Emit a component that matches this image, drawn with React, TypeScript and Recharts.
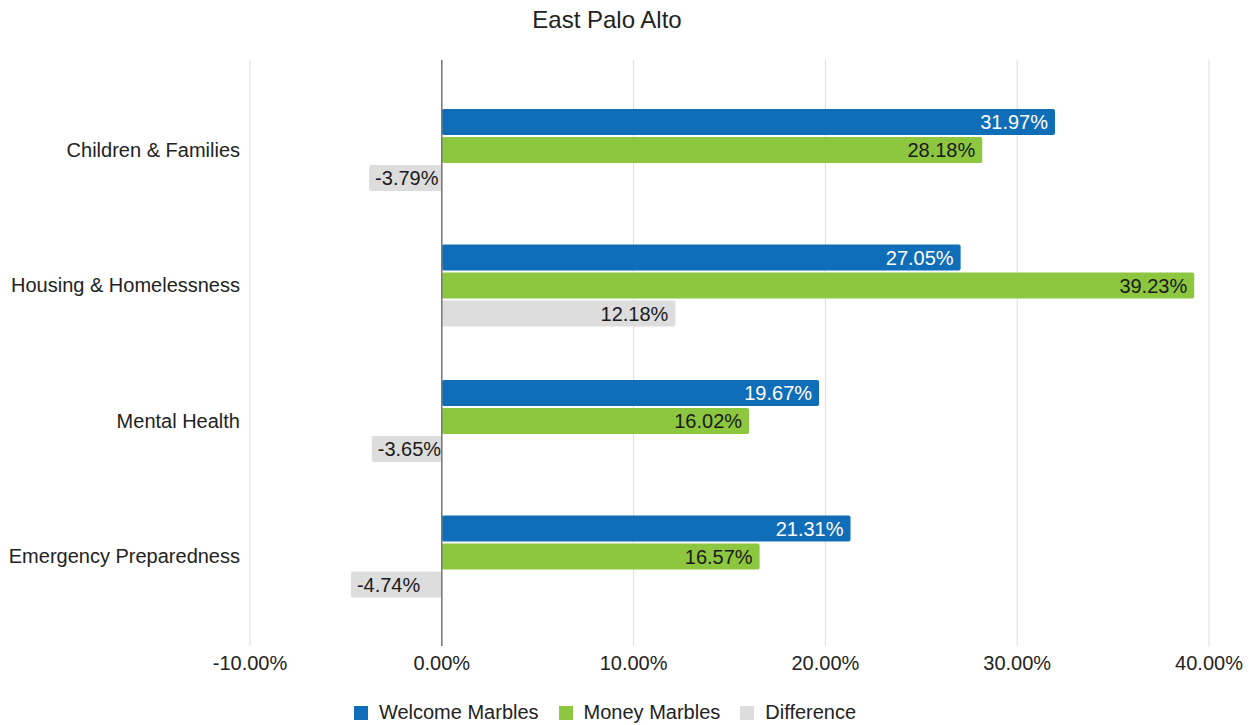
import React from 'react';
import {
  BarChart,
  Bar,
  XAxis,
  YAxis,
  CartesianGrid,
  Legend,
  ReferenceLine,
  LabelList
} from 'recharts';

const categories = [
  'Children & Families',
  'Housing & Homelessness',
  'Mental Health',
  'Emergency Preparedness'
];
const welcomeMarbles = [0.3197, 0.2705, 0.1967, 0.2131];
const moneyMarbles = [0.2818, 0.3923, 0.1602, 0.1657];
const difference = [-0.0379, 0.1218, -0.0365, -0.0474];
const xTicks = [-0.1, 0, 0.1, 0.2, 0.3, 0.4];
const seriesNames = ['Welcome Marbles', 'Money Marbles', 'Difference'];
const seriesColors = ['#106eb8', '#8dc63f', '#dddddd'];

const FONT = 'Arial, "Liberation Sans", Helvetica, sans-serif';

const data = categories.map((name, i) => ({
  name,
  welcome: welcomeMarbles[i],
  money: moneyMarbles[i],
  diff: difference[i]
}));

const pct = (v: number) => `${(v * 100).toFixed(2)}%`;

// label drawn inside the outer end of the bar, whichever side that is
function makeLabel(color: string) {
  return (props: any) => {
    const { x, y, width, height, value } = props;
    const left = Math.min(x, x + width);
    const right = Math.max(x, x + width);
    const neg = value < 0;
    return (
      <text
        x={neg ? left + 6 : right - 7}
        y={y + height / 2}
        dy="0.36em"
        textAnchor={neg ? 'start' : 'end'}
        fill={color}
        fontSize={20}
        fontFamily={FONT}
      >
        {pct(value)}
      </text>
    );
  };
}

// keep legend in series order (recharts sorts it by default)
function LegendContent() {
  return (
    <div style={{ display: 'flex', justifyContent: 'center', gap: 20, fontSize: 20, color: '#222' }}>
      {seriesNames.map((n, i) => (
        <div key={n} style={{ display: 'flex', alignItems: 'center' }}>
          <span
            style={{
              display: 'inline-block',
              width: 14,
              height: 14,
              background: seriesColors[i],
              marginRight: 11
            }}
          />
          {n}
        </div>
      ))}
    </div>
  );
}

export default function App() {
  return (
    <div style={{ position: 'relative', width: 1252, height: 725, fontFamily: FONT }}>
      <style>{`body{margin:0}`}</style>
      <div
        style={{
          position: 'absolute',
          top: 6,
          left: 0,
          width: 1214,
          textAlign: 'center',
          fontSize: 24,
          color: '#222'
        }}
      >
        East Palo Alto
      </div>
      <BarChart
        width={1252}
        height={725}
        data={data}
        layout="vertical"
        margin={{ top: 60, right: 43, bottom: 16, left: 0 }}
        barSize={26}
        barGap={2}
      >
        <CartesianGrid horizontal={false} stroke="#dcdcdc" />
        <XAxis
          type="number"
          domain={[-0.1, 0.4]}
          ticks={xTicks}
          tickFormatter={pct}
          axisLine={false}
          tickLine={false}
          tickMargin={4}
          height={40}
          tick={{ fill: '#222', fontSize: 20, fontFamily: FONT }}
        />
        <YAxis
          type="category"
          dataKey="name"
          width={250}
          axisLine={false}
          tickLine={false}
          tickMargin={4}
          padding={{ top: 22, bottom: 22 }}
          tick={{ fill: '#222', fontSize: 20, fontFamily: FONT }}
        />
        <ReferenceLine x={0} stroke="#777" strokeWidth={1.5} />
        <Legend
          verticalAlign="bottom"
          content={<LegendContent />}
          wrapperStyle={{ left: 0, width: 1210, bottom: 1 }}
        />
        <Bar dataKey="welcome" name={seriesNames[0]} fill={seriesColors[0]} radius={2} isAnimationActive={false}>
          <LabelList dataKey="welcome" content={makeLabel('#ffffff')} />
        </Bar>
        <Bar dataKey="money" name={seriesNames[1]} fill={seriesColors[1]} radius={2} isAnimationActive={false}>
          <LabelList dataKey="money" content={makeLabel('#1a1a1a')} />
        </Bar>
        <Bar dataKey="diff" name={seriesNames[2]} fill={seriesColors[2]} radius={2} isAnimationActive={false}>
          <LabelList dataKey="diff" content={makeLabel('#1a1a1a')} />
        </Bar>
      </BarChart>
    </div>
  );
}
